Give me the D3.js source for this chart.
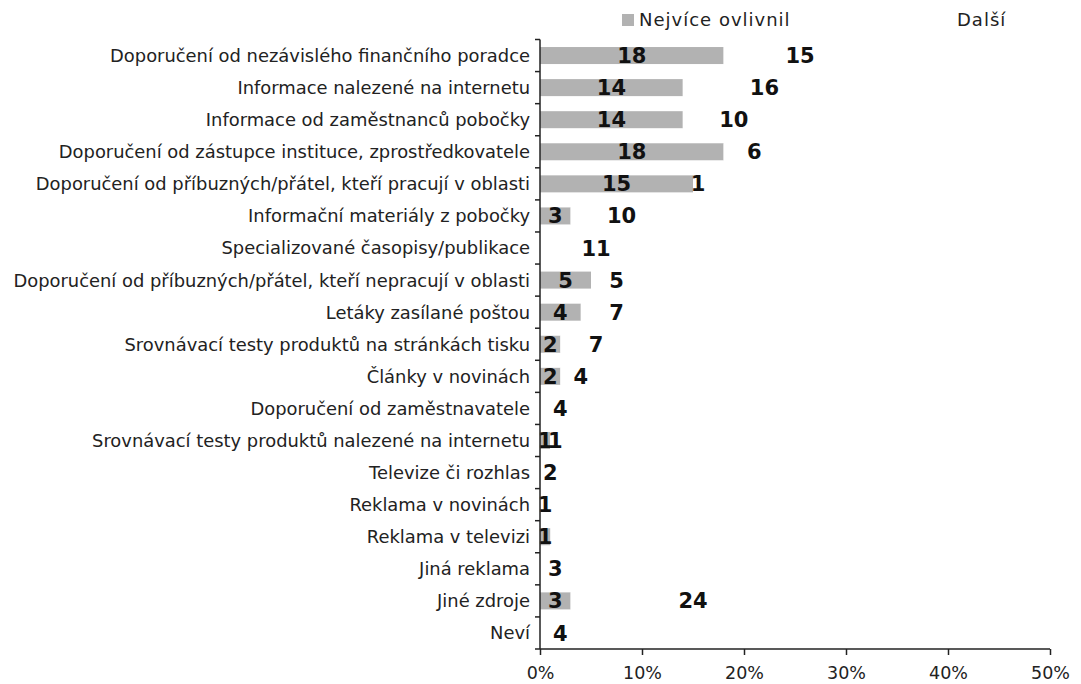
<!DOCTYPE html>
<html>
<head>
<meta charset="utf-8">
<script src="https://cdn.jsdelivr.net/npm/d3@7"></script>
<style>
  html, body { margin: 0; padding: 0; background: #fff; }
  svg { display: block; }
</style>
</head>
<body>
<svg id="chart" width="1081" height="684"></svg>
<script>
// Sources that influenced the choice (percent of respondents)
const categories = [
  "Doporučení od nezávislého finančního poradce",
  "Informace nalezené na internetu",
  "Informace od zaměstnanců pobočky",
  "Doporučení od zástupce instituce, zprostředkovatele",
  "Doporučení od příbuzných/přátel, kteří pracují v oblasti",
  "Informační materiály z pobočky",
  "Specializované časopisy/publikace",
  "Doporučení od příbuzných/přátel, kteří nepracují v oblasti",
  "Letáky zasílané poštou",
  "Srovnávací testy produktů na stránkách tisku",
  "Články v novinách",
  "Doporučení od zaměstnavatele",
  "Srovnávací testy produktů nalezené na internetu",
  "Televize či rozhlas",
  "Reklama v novinách",
  "Reklama v televizi",
  "Jiná reklama",
  "Jiné zdroje",
  "Neví"
];
const mostInfluenced = [18, 14, 14, 18, 15, 3, 0, 5, 4, 2, 2, 0, 1, 0, 0, 1, 0, 3, 0];
const further        = [15, 16, 10, 6, 1, 10, 11, 5, 7, 7, 4, 4, 1, 2, 1, 0, 3, 24, 4];
const seriesNames = ["Nejvíce ovlivnil", "Další"];
const xTickValues = [0, 10, 20, 30, 40, 50];

const svg = d3.select("#chart");
const plotLeft = 540, plotRight = 1050, plotTop = 39.5, plotBottom = 649;
const font = "'DejaVu Sans', Verdana, sans-serif";
const ink = "#222";

const x = d3.scaleLinear().domain([0, 50]).range([plotLeft, plotRight]);
const y = d3.scaleBand().domain(categories).range([plotTop, plotBottom]).paddingInner(0.47).paddingOuter(0.235);

const rows = categories.map((c, i) => ({ cat: c, a: mostInfluenced[i], b: further[i] }));
const stack = d3.stack().keys(["a", "b"])(rows);
const fills = ["#b2b2b2", "#ffffff"];

// bars
const layers = svg.append("g").selectAll("g").data(stack).join("g")
  .attr("fill", (d, i) => fills[i]);
layers.selectAll("rect").data(d => d).join("rect")
  .attr("x", d => x(d[0]))
  .attr("y", d => y(d.data.cat))
  .attr("width", d => x(d[1]) - x(d[0]))
  .attr("height", y.bandwidth());

// value labels centred in each segment
const labels = svg.append("g");
stack.forEach(layer => {
  labels.selectAll(null).data(layer.filter(d => d[1] - d[0] > 0)).join("text")
    .attr("x", d => x((d[0] + d[1]) / 2))
    .attr("y", d => y(d.data.cat) + y.bandwidth() / 2)
    .attr("dy", "0.36em")
    .attr("text-anchor", "middle")
    .attr("font-family", font)
    .attr("font-weight", "bold")
    .attr("font-size", 21)
    .attr("fill", "#111")
    .text(d => d[1] - d[0]);
});

// category axis
const yAxis = svg.append("g").attr("transform", `translate(${plotLeft},0)`);
yAxis.append("line").attr("x1", 0).attr("x2", 0).attr("y1", plotTop).attr("y2", plotBottom)
  .attr("stroke", ink).attr("stroke-width", 1.5);
const bounds = d3.range(categories.length + 1).map(i => plotTop + i * y.step());
yAxis.selectAll("line.tk").data(bounds).join("line").attr("class", "tk")
  .attr("x1", -5).attr("x2", 0).attr("y1", d => d).attr("y2", d => d)
  .attr("stroke", ink).attr("stroke-width", 1.5);
yAxis.selectAll("text").data(categories).join("text")
  .attr("x", -10)
  .attr("y", d => y(d) + y.bandwidth() / 2)
  .attr("dy", "0.36em")
  .attr("text-anchor", "end")
  .attr("font-family", font)
  .attr("font-size", 17.9)
  .attr("fill", ink)
  .text(d => d);

// value axis
const xAxis = svg.append("g").attr("transform", `translate(0,${plotBottom})`)
  .call(d3.axisBottom(x).tickValues(xTickValues).tickSize(6).tickPadding(12)
    .tickFormat(d => d + "%"));
xAxis.select(".domain").attr("stroke", ink).attr("stroke-width", 1.5)
  .attr("d", `M${plotLeft},0H${plotRight}`);
xAxis.selectAll(".tick line").attr("stroke", ink).attr("stroke-width", 1.5);
xAxis.selectAll(".tick text").attr("font-family", font).attr("font-size", 17.5).attr("fill", ink);

// legend
const legend = svg.append("g");
const legendItems = [{ name: seriesNames[0], fill: fills[0], x: 622 }, { name: seriesNames[1], fill: fills[1], x: 940 }];
legendItems.forEach(it => {
  legend.append("rect").attr("x", it.x).attr("y", 14).attr("width", 12).attr("height", 12).attr("fill", it.fill);
  legend.append("text").attr("x", it.x + 17).attr("y", 20).attr("dy", "0.36em")
    .attr("font-family", font).attr("font-size", 18).attr("letter-spacing", 1)
    .attr("fill", ink).text(it.name);
});
</script>
</body>
</html>
